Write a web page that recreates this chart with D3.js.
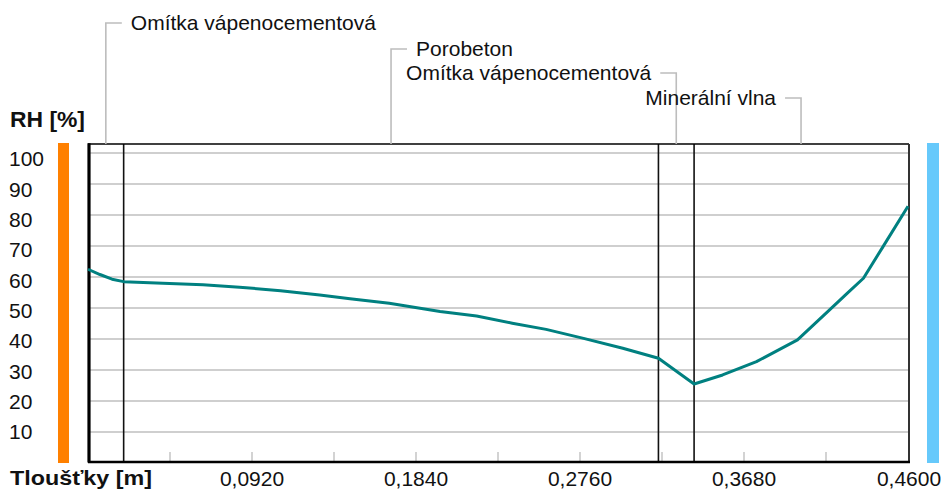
<!DOCTYPE html>
<html>
<head>
<meta charset="utf-8">
<script src="https://cdn.jsdelivr.net/npm/d3@7"></script>
<style>
  body { margin: 0; background: #fff; }
  svg { display: block; font-family: "Liberation Sans", Arial, sans-serif; }
</style>
</head>
<body>
<div id="chart"></div>
<script>
// layers of the wall, from the inside out
const layerNames = ['Omítka vápenocementová', 'Porobeton', 'Omítka vápenocementová', 'Minerální vlna'];
const layerThickness = [0.02, 0.30, 0.02, 0.12];

// relative humidity profile through the wall
const depth = [0, 0.0067, 0.0135, 0.020, 0.042, 0.0645, 0.085, 0.108, 0.130, 0.147, 0.169,
  0.1975, 0.218, 0.238, 0.257, 0.278, 0.300, 0.320, 0.340, 0.356, 0.375, 0.398, 0.416,
  0.426, 0.435, 0.446, 0.460];
const rh = [62.5, 60.8, 59.3, 58.5, 58.0, 57.5, 56.7, 55.6, 54.2, 53.0, 51.5,
  48.9, 47.4, 45.1, 43.1, 40.2, 37.0, 33.8, 25.5, 28.4, 32.7, 39.7, 49.4,
  54.8, 59.6, 69.8, 82.8];

const yTicks = [10, 20, 30, 40, 50, 60, 70, 80, 90, 100];
const xTicks = [0.092, 0.184, 0.276, 0.368, 0.46];
const xMinorTicks = [0.046, 0.092, 0.138, 0.184, 0.23, 0.276, 0.322, 0.368, 0.414];

const W = 942, H = 492;
const frame = { left: 88, right: 909, top: 144, bottom: 461 };

const svg = d3.select('#chart').append('svg')
    .attr('width', W)
    .attr('height', H);

const x = d3.scaleLinear().domain([0, 0.46]).range([88, 908]);
const y = d3.scaleLinear().domain([0, 100]).range([463, 153]);
// the value labels sit on a slightly tighter spacing than the grid
const yLabel = d3.scaleLinear().domain([10, 100]).range([432, 159]);

// side bars (interior / exterior)
svg.append('rect')
    .attr('x', 58).attr('y', 143).attr('width', 11).attr('height', 320)
    .attr('fill', '#ff8000');
svg.append('rect')
    .attr('x', 927).attr('y', 143).attr('width', 12).attr('height', 320)
    .attr('fill', '#66c9fb');

// grid
svg.append('g')
  .selectAll('line')
    .data(yTicks)
  .enter().append('line')
    .attr('x1', frame.left).attr('x2', frame.right)
    .attr('y1', d => y(d)).attr('y2', d => y(d))
    .attr('stroke', '#cfcfcf')
    .attr('stroke-width', 2);

svg.append('g')
  .selectAll('line')
    .data(xMinorTicks)
  .enter().append('line')
    .attr('x1', d => x(d)).attr('x2', d => x(d))
    .attr('y1', 452).attr('y2', 461)
    .attr('stroke', '#c4c4c4')
    .attr('stroke-width', 1.5);

// layer boundaries
const bounds = d3.cumsum(layerThickness);
svg.append('g')
  .selectAll('line')
    .data(bounds.slice(0, -1))
  .enter().append('line')
    .attr('x1', d => x(d)).attr('x2', d => x(d))
    .attr('y1', frame.top).attr('y2', frame.bottom)
    .attr('stroke', '#111')
    .attr('stroke-width', 1.6);

// frame
svg.append('line').attr('x1', frame.left).attr('x2', frame.right)
    .attr('y1', frame.top).attr('y2', frame.top)
    .attr('stroke', '#000').attr('stroke-width', 1.6);
svg.append('line').attr('x1', frame.right).attr('x2', frame.right)
    .attr('y1', frame.top).attr('y2', frame.bottom)
    .attr('stroke', '#333').attr('stroke-width', 2);
svg.append('line').attr('x1', 89).attr('x2', 89)
    .attr('y1', frame.top - 0.8).attr('y2', frame.bottom + 1.5)
    .attr('stroke', '#000').attr('stroke-width', 3.2);
svg.append('line').attr('x1', frame.left).attr('x2', frame.right + 1)
    .attr('y1', 462).attr('y2', 462)
    .attr('stroke', '#000').attr('stroke-width', 2.6);

// curve
const line = d3.line()
    .x((d, i) => x(depth[i]))
    .y(d => y(d));

svg.append('path')
    .datum(rh)
    .attr('d', line)
    .attr('fill', 'none')
    .attr('stroke', '#008080')
    .attr('stroke-width', 3)
    .attr('stroke-linejoin', 'round');

// axis labels
svg.append('g')
  .selectAll('text')
    .data(yTicks)
  .enter().append('text')
    .attr('x', 9)
    .attr('y', d => yLabel(d))
    .attr('dy', '0.35em')
    .attr('font-size', 21)
    .attr('fill', '#111')
    .text(d => d);

svg.append('g')
  .selectAll('text')
    .data(xTicks)
  .enter().append('text')
    .attr('x', d => x(d) + (d === 0.46 ? 1 : 0))
    .attr('y', 479)
    .attr('dy', '0.35em')
    .attr('text-anchor', 'middle')
    .attr('font-size', 21)
    .attr('fill', '#111')
    .text(d => d3.format('.4f')(d).replace('.', ','));

svg.append('text')
    .attr('x', 10).attr('y', 119).attr('dy', '0.35em')
    .attr('font-size', 22).attr('font-weight', 'bold')
    .attr('textLength', 75).attr('lengthAdjust', 'spacingAndGlyphs')
    .attr('fill', '#111')
    .text('RH [%]');

svg.append('text')
    .attr('x', 10).attr('y', 478).attr('dy', '0.35em')
    .attr('font-size', 21).attr('font-weight', 'bold')
    .attr('textLength', 142).attr('lengthAdjust', 'spacingAndGlyphs')
    .attr('fill', '#111')
    .text('Tloušťky [m]');

// layer names with leader lines
const labelY = [23, 49, 73, 98];
const labelSide = [1, 1, -1, -1];
const mids = layerThickness.map((t, i) => bounds[i] - t / 2);

const leaders = svg.append('g');
layerNames.forEach((name, i) => {
  const lx = x(mids[i]);
  const ly = labelY[i];
  const side = labelSide[i];
  leaders.append('path')
      .attr('d', `M${lx},${frame.top}V${ly}H${lx + side * 16}`)
      .attr('fill', 'none')
      .attr('stroke', '#bdbdbd')
      .attr('stroke-width', 1.6);
  leaders.append('text')
      .attr('x', lx + side * 25)
      .attr('y', ly)
      .attr('dy', '0.35em')
      .attr('text-anchor', side > 0 ? 'start' : 'end')
      .attr('font-size', 21)
      .attr('fill', '#111')
      .text(name);
});
</script>
</body>
</html>
